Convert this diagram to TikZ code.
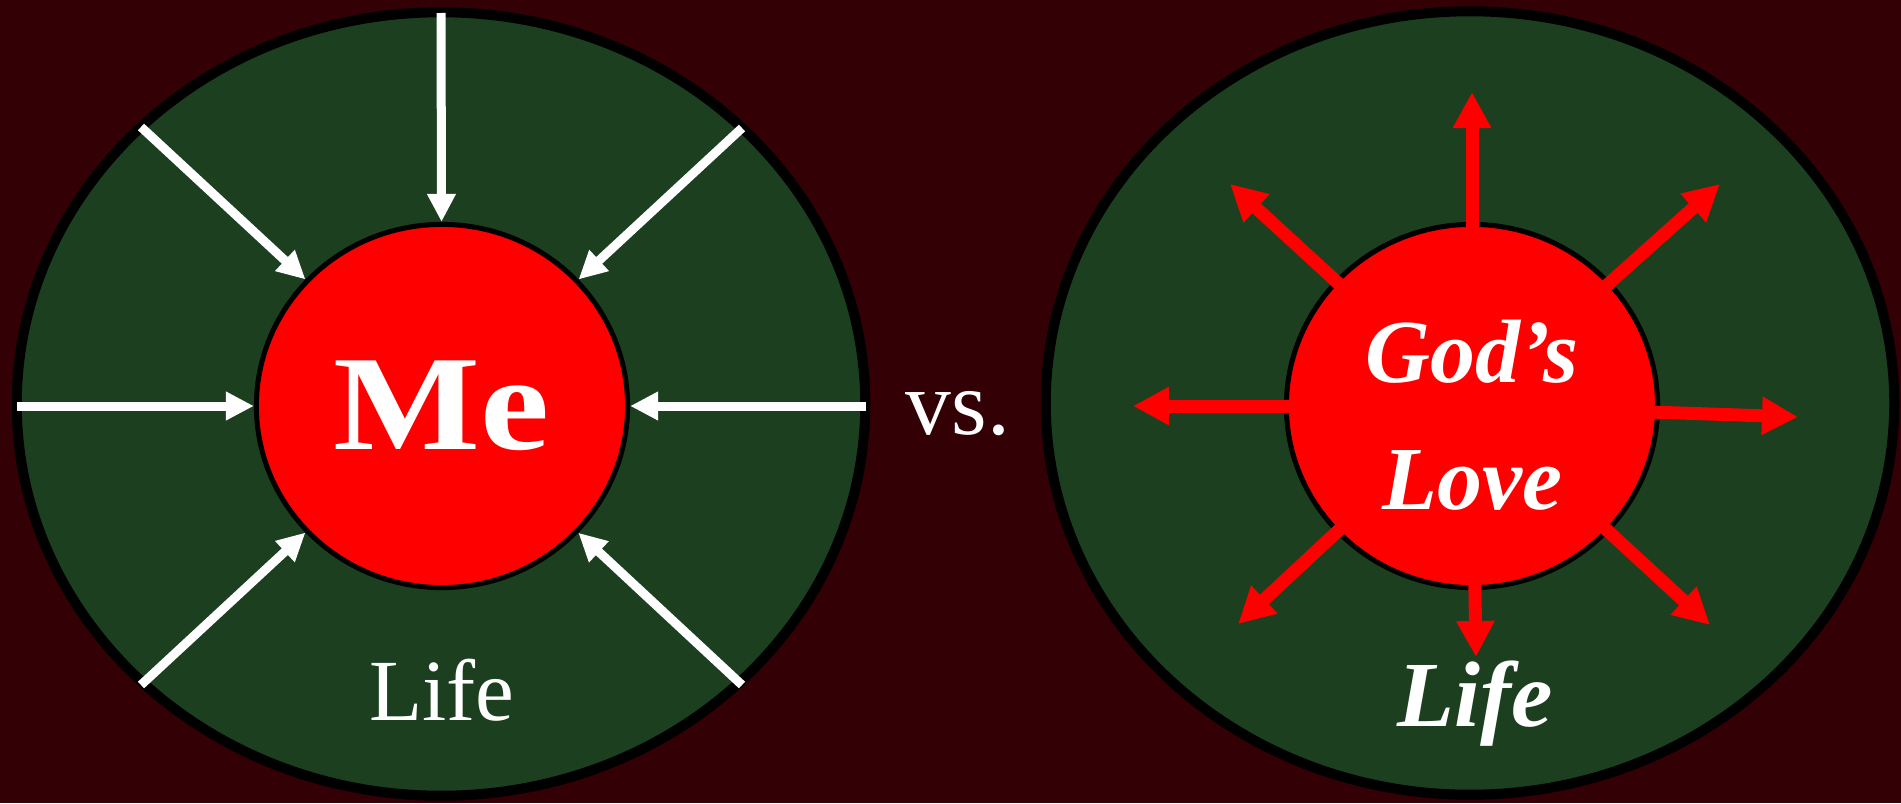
\documentclass[tikz,border=0pt]{standalone}
\usepackage{fontspec}
\setmainfont{Liberation Serif}
\newfontfamily\wideserif[FakeStretch=1.15]{Liberation Serif}
\usetikzlibrary{arrows.meta,shapes.geometric}
\definecolor{darkmaroon}{RGB}{51,0,6}
\definecolor{lifegreen}{RGB}{27,63,31}

\begin{document}
\begin{tikzpicture}[x=0.01cm, y=-0.01cm,
  ring/.style={ellipse, draw=black, line width=1mm, fill=lifegreen, minimum width=8.48cm, minimum height=7.83cm, inner sep=0pt},
  core/.style={ellipse, draw=black, line width=0.5mm, fill=red, minimum width=3.71cm, minimum height=3.63cm, inner sep=0pt, text=white, align=center},
  inarr/.style={-{Triangle[length=2.8mm, width=2.7mm]}, line width=0.9mm, white},
  outarr/.style={-{Triangle[length=3.6mm, width=3.6mm]}, line width=1.3mm, red, shorten <=-0.6mm},
  lbl/.style={text=white, anchor=base}
]
  \fill[darkmaroon] (0,0) rectangle (1901,803);

  % the two rings of life
  \node[ring] (lifeL) at (441,404) {};
  \node[ring] (lifeR) at (1470,403) {};

  % centres
  \node[core, font=\wideserif\fontsize{38.5}{38.5}\selectfont\bfseries] (me) at (442,406) {Me};
  \node[core] (love) at (1472,406) {};
  \node[text=white, align=center, font=\fontsize{25.6}{36}\selectfont\bfseries\itshape]
    (loveText) at ([yshift=-0.09cm]love.center) {God’s\\Love};

  \node[lbl, font=\fontsize{24.8}{24.8}\selectfont] (lifeLtext) at (442,720) {Life};
  \node[lbl, font=\fontsize{26.5}{26.5}\selectfont\bfseries\itshape] (lifeRtext) at (1475,726) {Life};
  \node[lbl, font=\fontsize{26}{26}\selectfont] (vs) at (958,434) {vs.};

  % everything pulled in to Me
  \coordinate (wN)  at (441,13);
  \coordinate (wNW) at (141,127);
  \coordinate (wNE) at (742,128);
  \coordinate (wW)  at (17,406);
  \coordinate (wE)  at (866,406);
  \coordinate (wSW) at (141,685);
  \coordinate (wSE) at (742,685);
  \draw[inarr] (wN)  -- (me);
  \draw[inarr] (wNW) -- (me);
  \draw[inarr] (wNE) -- (me);
  \draw[inarr] (wW)  -- (me);
  \draw[inarr] (wE)  -- (me);
  \draw[inarr] (wSW) -- (me);
  \draw[inarr] (wSE) -- (me);

  % love going out
  \coordinate (rN)  at (1472,92);
  \coordinate (rNW) at (1230,184);
  \coordinate (rNE) at (1720,184);
  \coordinate (rW)  at (1133,406);
  \coordinate (rE)  at (1798,417);
  \coordinate (rSW) at (1238,624);
  \coordinate (rSE) at (1710,625);
  \coordinate (rS)  at (1476,657);
  \draw[outarr] (love) -- (rN);
  \draw[outarr] (love) -- (rNW);
  \draw[outarr] (love) -- (rNE);
  \draw[outarr] (love) -- (rW);
  \draw[outarr] (love) -- (rE);
  \draw[outarr] (love) -- (rSW);
  \draw[outarr] (love) -- (rSE);
  \draw[outarr] (love) -- (rS);
\end{tikzpicture}
\end{document}
